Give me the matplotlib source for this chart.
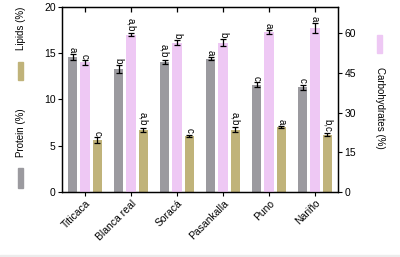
import numpy as np
import matplotlib
matplotlib.use("Agg")
import matplotlib.pyplot as plt
import matplotlib.lines as mlines
from matplotlib.patches import Rectangle

plt.rcParams['font.family'] = ['Liberation Sans', 'DejaVu Sans']

varieties = ["Titicaca", "Blanca real", "Soracá", "Pasankalla", "Puno", "Nariño"]

protein = [14.6, 13.3, 14.05, 14.4, 11.6, 11.3]
protein_err = [0.3, 0.45, 0.25, 0.15, 0.25, 0.3]
protein_lbl = ["a", "b", "a,b", "a", "c", "c"]

carbs = [49.0, 59.5, 56.5, 56.5, 60.5, 62.0]
carbs_err = [0.8, 0.6, 1.0, 1.2, 0.6, 2.0]
carbs_lbl = ["c", "a,b", "b", "b", "a", "a"]

lipids = [5.6, 6.7, 6.05, 6.75, 7.0, 6.2]
lipids_err = [0.3, 0.25, 0.1, 0.25, 0.1, 0.15]
lipids_lbl = ["c", "a,b", "c", "a,b", "a", "b,c"]

c_prot = "#9b9a9f"
c_carb = "#eec8f4"
c_lip = "#c0b37a"

fig = plt.figure(figsize=(4.0, 2.57), dpi=100)
ax = fig.add_axes([0.155, 0.253, 0.69, 0.72])
ax2 = ax.twinx()

x = np.arange(len(varieties))
w = 0.2
off = 0.27
ekw = dict(ecolor="black", elinewidth=0.9, capsize=2, capthick=0.9)

ax.bar(x - off, protein, w, color=c_prot, yerr=protein_err, error_kw=ekw)
ax.bar(x + off, lipids, w, color=c_lip, yerr=lipids_err, error_kw=ekw)
ax2.bar(x, carbs, w, color=c_carb, yerr=carbs_err, error_kw=ekw)

for i in range(len(x)):
    ax.text(x[i] - off, protein[i] + protein_err[i] + 0.2, protein_lbl[i],
            rotation=-90, ha="center", va="bottom", fontsize=7)
    ax.text(x[i] + off, lipids[i] + lipids_err[i] + 0.2, lipids_lbl[i],
            rotation=-90, ha="center", va="bottom", fontsize=7)
    ax2.text(x[i], carbs[i] + carbs_err[i] + 0.7, carbs_lbl[i],
             rotation=-90, ha="center", va="bottom", fontsize=7)

ax.set_xlim(-0.5, 5.5)
ax.set_ylim(0, 20)
ax2.set_ylim(0, 70)
ax.set_yticks([0, 5, 10, 15, 20])
ax2.set_yticks([0, 15, 30, 45, 60])
ax.set_xticks(x)
ax.set_xticklabels(varieties, rotation=45, ha="right", rotation_mode="anchor", fontsize=7.5)

for s in ax.spines.values():
    s.set_linewidth(0.9)
for s in ax2.spines.values():
    s.set_linewidth(0.9)
for a in (ax, ax2):
    a.tick_params(labelsize=7.5, length=3, width=0.8, pad=1.5)

# ticks along the top edge, pointing inward (drawn on the twin so nothing hides them)
ax2.xaxis.set_visible(True)
ax2.tick_params(axis="x", bottom=False, labelbottom=False, top=True, labeltop=False,
                direction="in", length=3.5, width=0.9, color="black")

# legend-like labels at the sides
fig.text(0.052, 0.89, "Lipids (%)", rotation=90, ha="center", va="center", fontsize=7)
fig.patches.append(Rectangle((0.046, 1 - 80 / 257), 0.012, 18 / 257,
                             transform=fig.transFigure, color=c_lip, figure=fig))
fig.text(0.052, 1 - 133 / 257, "Protein (%)", rotation=90, ha="center", va="center", fontsize=7)
fig.patches.append(Rectangle((0.046, 1 - 188 / 257), 0.012, 20 / 257,
                             transform=fig.transFigure, color=c_prot, figure=fig))
fig.patches.append(Rectangle((0.942, 1 - 53 / 257), 0.012, 18 / 257,
                             transform=fig.transFigure, color=c_carb, figure=fig))
fig.text(0.95, 1 - 108 / 257, "Carbohydrates (%)", rotation=-90, ha="center", va="center", fontsize=7)

# faint strip at the bottom edge
fig.patches.append(Rectangle((0, 0), 1, 2.5 / 257, transform=fig.transFigure,
                             color="#ececec", figure=fig))

fig.savefig("out.png", dpi=100)
